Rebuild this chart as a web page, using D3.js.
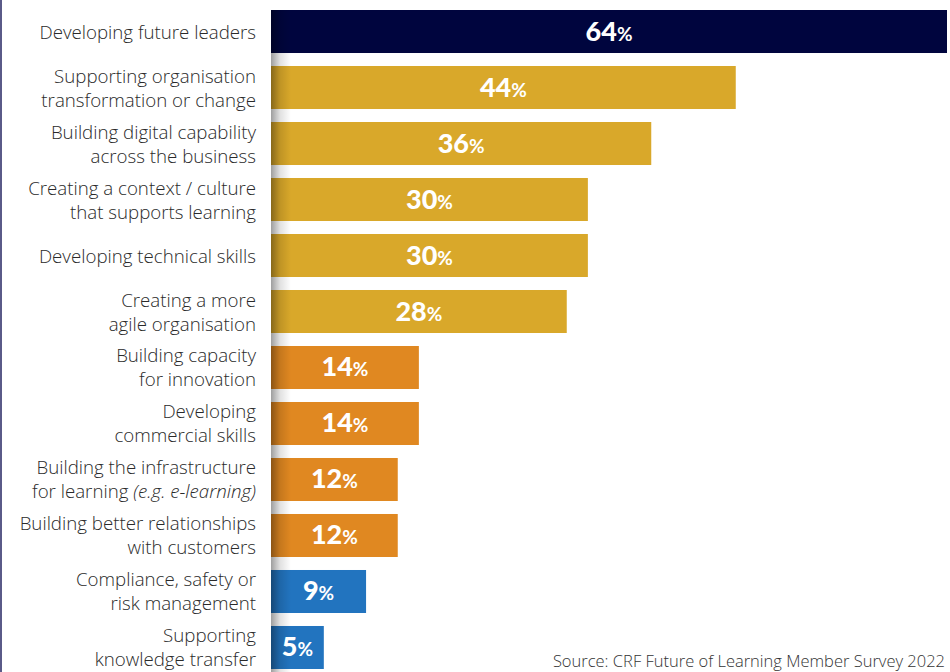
<!DOCTYPE html>
<html>
<head>
<meta charset="utf-8">
<script src="https://cdn.jsdelivr.net/npm/d3@7"></script>
<style>
  html, body { margin: 0; padding: 0; background: #fff; }
  svg { display: block; }
</style>
</head>
<body>
<svg id="chart" width="950" height="672"></svg>
<script>
// Survey priorities (percentage of respondents)
const categories = [
  "Developing future leaders",
  "Supporting organisation\ntransformation or change",
  "Building digital capability\nacross the business",
  "Creating a context / culture\nthat supports learning",
  "Developing technical skills",
  "Creating a more\nagile organisation",
  "Building capacity\nfor innovation",
  "Developing\ncommercial skills",
  "Building the infrastructure\nfor learning (e.g. e-learning)",
  "Building better relationships\nwith customers",
  "Compliance, safety or\nrisk management",
  "Supporting\nknowledge transfer"
];
const values = [64, 44, 36, 30, 30, 28, 14, 14, 12, 12, 9, 5];
const groups = ["top", "high", "high", "high", "high", "high", "mid", "mid", "mid", "mid", "low", "low"];
const groupColors = { top: "#00053e", high: "#d9a82a", mid: "#e08821", low: "#2274bf" };
const sourceText = "Source: CRF Future of Learning Member Survey 2022";

const svg = d3.select("#chart");
const W = 950, H = 672;

const x = d3.scaleLinear().domain([0, 64]).range([271, 947]);
const y = d3.scaleBand().domain(d3.range(categories.length)).range([10, 669]).paddingInner(0.232).paddingOuter(0);

// left frame rule
svg.append("rect").attr("x", 0).attr("y", 0).attr("width", 2).attr("height", H).attr("fill", "#5a5a88");

// bars
svg.append("g").selectAll("rect")
  .data(values)
  .join("rect")
  .attr("x", x(0))
  .attr("y", (d, i) => y(i))
  .attr("width", d => x(d) - x(0))
  .attr("height", y.bandwidth())
  .attr("fill", (d, i) => groupColors[groups[i]]);

// soft shadow along the baseline
const defs = svg.append("defs");
const grad = defs.append("linearGradient").attr("id", "edgeShade").attr("x1", 0).attr("x2", 1).attr("y1", 0).attr("y2", 0);
grad.append("stop").attr("offset", "0%").attr("stop-color", "#000").attr("stop-opacity", 0.38);
grad.append("stop").attr("offset", "45%").attr("stop-color", "#000").attr("stop-opacity", 0.12);
grad.append("stop").attr("offset", "100%").attr("stop-color", "#000").attr("stop-opacity", 0);
svg.append("rect")
  .attr("x", x(0)).attr("y", y(0))
  .attr("width", 20).attr("height", H - y(0))
  .attr("fill", "url(#edgeShade)");

// value labels
const vl = svg.append("g").selectAll("text")
  .data(values)
  .join("text")
  .attr("x", d => (x(0) + x(d)) / 2)
  .attr("y", (d, i) => y(i) + y.bandwidth() / 2 + 9)
  .attr("text-anchor", "middle")
  .attr("fill", "#fff")
  .attr("font-family", "Lato, 'Open Sans', sans-serif")
  .attr("font-weight", 900)
  .attr("font-size", 27);
vl.append("tspan").text(d => d);
vl.append("tspan").attr("font-size", 19).attr("font-weight", 700).text("%");

// category labels (right aligned, text in parentheses set in italics)
const lineH = 24;
const labels = svg.append("g")
  .attr("font-family", "'Open Sans', sans-serif")
  .attr("font-weight", 300)
  .attr("font-size", 18.7)
  .attr("fill", "#2a2a2a");
categories.forEach((c, i) => {
  const lines = c.split("\n");
  const cy = y(i) + y.bandwidth() / 2;
  const firstBase = cy - (lines.length - 1) * lineH / 2 + 7;
  lines.forEach((ln, j) => {
    const t = labels.append("text")
      .attr("x", 256)
      .attr("y", firstBase + j * lineH)
      .attr("text-anchor", "end");
    const m = ln.match(/^(.*?)(\(.*\))$/);
    if (m) {
      t.append("tspan").text(m[1]);
      t.append("tspan").attr("font-style", "italic").text(m[2]);
    } else {
      t.text(ln);
    }
  });
});

// source note
svg.append("text")
  .attr("x", 945).attr("y", 667)
  .attr("text-anchor", "end")
  .attr("font-family", "'Open Sans', sans-serif")
  .attr("font-weight", 300)
  .attr("font-size", 16.5)
  .attr("fill", "#333")
  .text(sourceText);
</script>
</body>
</html>
